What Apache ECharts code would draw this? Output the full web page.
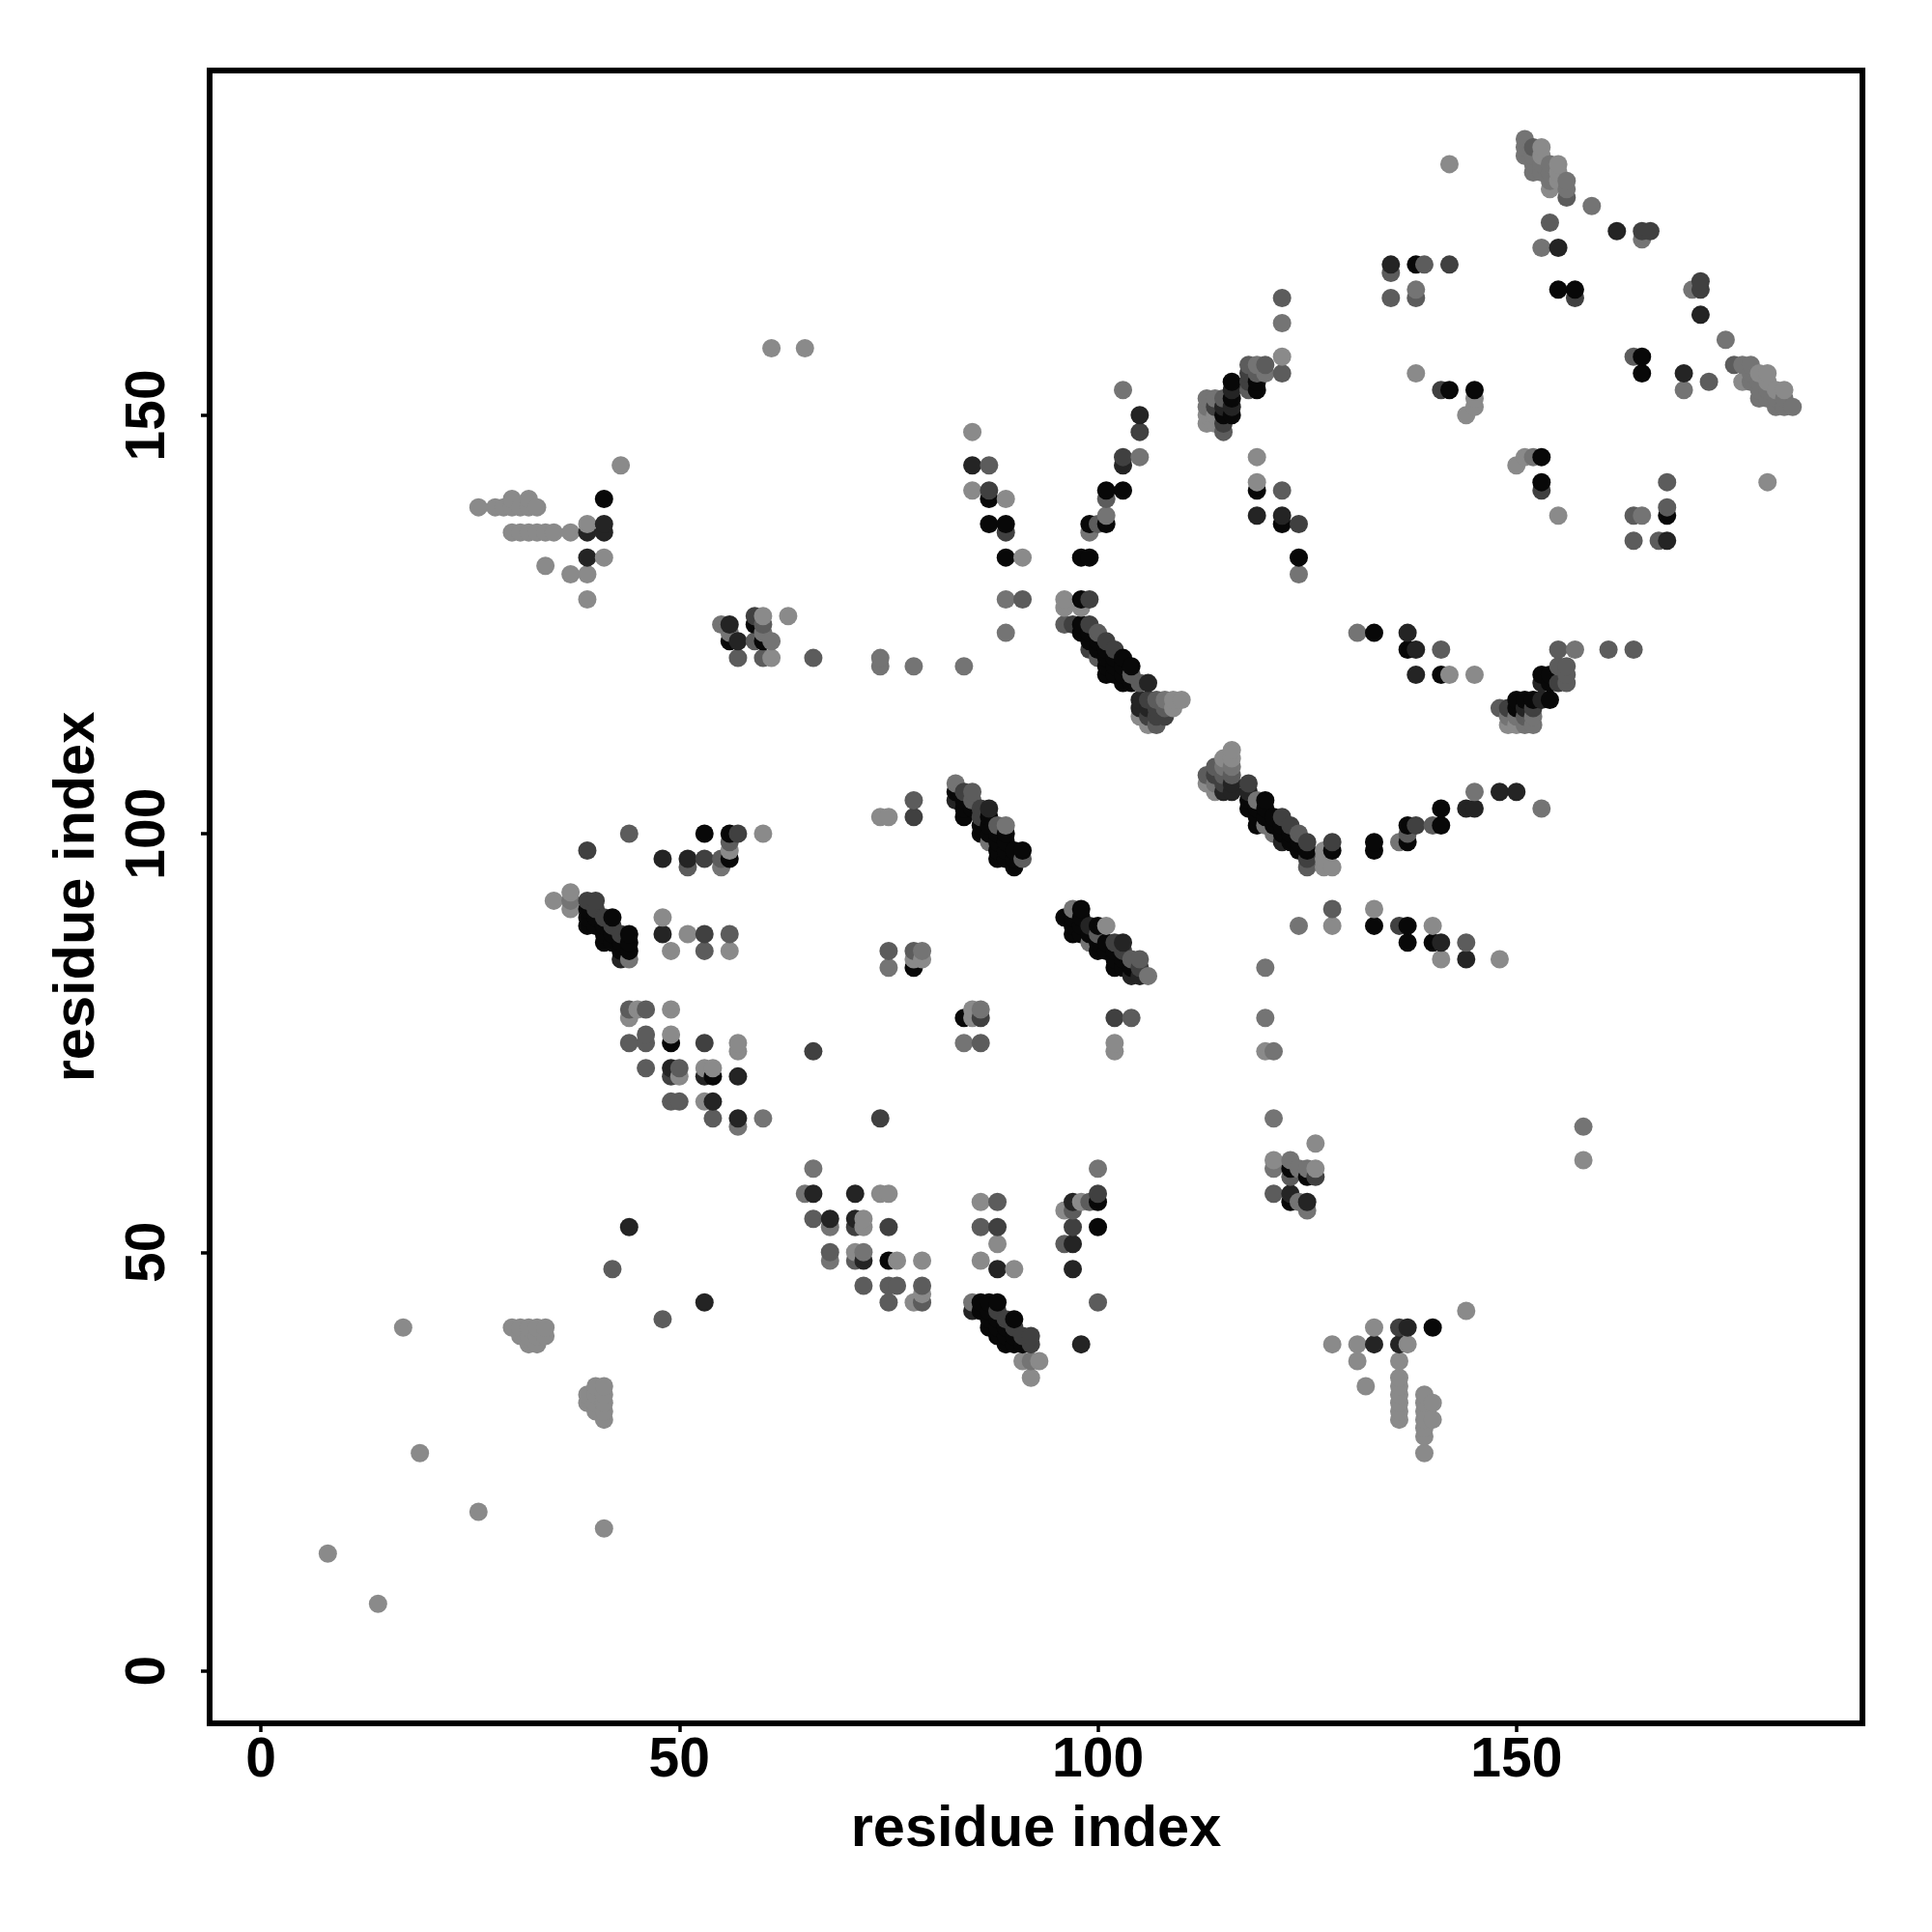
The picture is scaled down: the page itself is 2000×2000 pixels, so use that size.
<!DOCTYPE html>
<html><head><meta charset="utf-8">
<style>html,body{margin:0;padding:0;background:#fff}#c{width:2000px;height:2000px}</style>
<script src="https://cdn.jsdelivr.net/npm/echarts@6/dist/echarts.min.js"></script>
</head><body><div id="c"></div>
<script>
// each point: [residue i, residue j, contact strength level 1..6]
const tickValues = [0, 50, 100, 150];
const axisTitle = 'residue index';
const regionA = [[44,53,5],[42,48,3],[53,44,5],[48,42,3],[17,41,1],[30,41,1],[31,41,1],[32,41,1],[33,41,1],[34,41,1],[31,40,1],[32,40,1],[33,40,1],[34,40,1],[32,39,1],[33,39,1],[40,34,1],[41,34,1],[39,33,1],[40,33,1],[41,33,1],[39,32,1],[40,32,1],[41,32,1],[40,31,1],[41,31,1],[41,30,1],[19,26,1],[26,19,1],[41,17,1],[8,14,1],[14,8,1]];
const regionB = [[66,60,2],[65,57,2],[66,57,5],[71,57,5],[74,57,1],[75,57,1],[66,54,3],[68,54,5],[68,53,2],[71,54,5],[72,54,1],[71,53,4],[72,53,1],[75,53,4],[68,50,3],[68,49,2],[71,50,1],[72,50,2],[71,49,3],[72,49,5],[75,49,6],[76,49,1],[79,49,1],[72,46,3],[75,46,3],[76,46,3],[79,46,3],[75,44,3],[78,44,1],[79,45,1],[79,44,3]];
const regionC = [[86,56,1],[88,56,3],[86,53,3],[88,53,4],[88,51,1],[86,49,1],[88,48,5],[90,48,1],[85,44,2],[85,43,5],[86,44,6],[87,44,6],[88,44,6],[86,43,6],[87,43,6],[88,43,4],[87,42,6],[88,42,6],[89,42,4],[90,42,6],[87,41,6],[88,41,6],[89,41,6],[90,41,4],[88,40,6],[89,40,6],[90,40,6],[91,40,4],[92,40,4],[89,39,6],[90,39,6],[91,39,6],[92,39,4],[91,37,1],[92,37,2],[93,37,1],[92,35,1],[100,60,2],[100,57,4],[100,56,6],[97,56,5],[98,56,1],[99,56,3],[96,55,1],[97,55,3],[97,53,4],[100,53,6],[96,51,3],[97,51,5],[97,48,5],[100,44,3],[98,39,5]];
const regionD = [[121,66,2],[126,63,1],[121,61,1],[121,60,2],[123,61,2],[123,60,6],[124,60,2],[123,59,3],[125,60,2],[125,59,6],[126,60,1],[126,59,4],[121,57,3],[123,57,5],[123,56,6],[124,56,2],[125,56,5],[125,55,2],[158,65,2],[158,61,1],[144,43,1],[133,41,1],[136,41,4],[137,41,5],[140,41,6],[128,39,1],[131,39,1],[133,39,5],[136,39,5],[137,39,1],[131,37,1],[136,37,1],[136,35,1],[136,34,1],[136,33,1],[136,32,1],[136,31,1],[136,30,1],[132,34,1],[139,33,1],[139,32,1],[139,31,1],[139,30,1],[139,29,1],[139,28,1],[139,26,1],[140,32,1],[140,30,1]];
const regionE = [[44,100,3],[53,100,6],[56,100,6],[57,100,4],[60,100,1],[39,98,4],[56,99,3],[56,98,1],[48,97,5],[51,97,5],[53,97,4],[55,97,3],[56,97,6],[51,96,3],[55,96,2],[35,92,1],[37,93,1],[37,92,2],[37,91,1],[39,92,4],[40,92,4],[39,91,6],[39,90,6],[39,89,6],[40,91,4],[40,90,6],[40,89,6],[41,90,4],[41,89,6],[41,88,6],[41,87,6],[42,90,6],[42,89,4],[42,88,6],[42,87,6],[43,88,4],[43,87,6],[43,86,6],[43,85,5],[44,88,6],[44,87,6],[44,86,6],[44,85,2],[48,90,1],[48,88,5],[51,88,1],[53,88,4],[56,88,3],[49,86,1],[53,86,3],[56,86,1]];
const regionF = [[44,79,3],[45,79,1],[46,79,3],[44,78,1],[49,79,1],[46,76,3],[44,75,3],[46,75,3],[49,76,1],[49,75,6],[53,75,4],[57,75,1],[57,74,1],[66,74,4],[46,72,3],[49,72,5],[50,72,3],[49,71,4],[50,71,1],[53,72,1],[54,72,1],[53,71,5],[54,71,6],[57,71,5],[49,68,3],[50,68,3],[53,68,1],[54,68,5],[54,66,3],[57,66,5],[57,65,2],[60,66,2],[74,66,4]];
const regionG = [[83,106,2],[83,105,6],[83,104,5],[84,105,4],[85,105,3],[84,104,6],[84,103,6],[84,102,6],[85,104,3],[85,103,6],[86,103,4],[87,103,5],[86,102,4],[86,101,6],[86,100,6],[87,102,6],[87,101,6],[87,100,6],[87,99,2],[88,101,3],[89,101,2],[88,100,6],[89,100,6],[88,99,6],[89,99,6],[88,98,6],[89,98,6],[88,97,6],[89,97,6],[90,97,6],[90,96,6],[90,98,6],[91,98,6],[91,97,3]];
const regionH = [[97,91,2],[98,91,6],[96,90,6],[97,90,6],[98,90,6],[97,89,6],[97,88,6],[98,89,6],[99,89,5],[100,89,6],[101,89,1],[98,88,6],[99,88,6],[100,88,3],[99,87,2],[100,87,6],[100,86,6],[101,87,6],[101,86,6],[102,87,4],[103,87,5],[102,86,6],[103,86,4],[102,85,6],[102,84,6],[103,85,6],[103,84,6],[104,85,3],[105,85,3],[104,84,6],[104,83,5],[105,84,4],[105,83,5],[106,83,2],[75,86,3],[75,84,2],[78,86,3],[79,86,2],[78,85,1],[79,85,1],[78,84,6],[78,104,3],[78,102,4],[74,102,1],[75,102,1],[84,78,6],[85,79,1],[86,79,2],[85,78,1],[86,78,4],[84,75,2],[86,75,3],[102,78,4],[104,78,3],[102,75,1],[102,74,1]];
const regionI = [[55,125,2],[56,125,5],[56,124,2],[56,123,6],[57,123,5],[57,121,3],[59,126,4],[59,125,6],[60,126,1],[60,125,3],[59,123,3],[60,124,2],[60,123,6],[61,123,2],[63,126,1],[60,121,3],[61,121,1],[66,121,3],[74,121,2],[74,120,2],[78,120,2],[84,120,2],[43,144,1],[41,140,6],[26,139,1],[28,139,1],[29,139,1],[30,139,1],[31,139,1],[32,139,1],[33,139,1],[30,140,1],[32,140,1],[30,136,1],[31,136,1],[32,136,1],[33,136,1],[34,136,1],[35,136,1],[37,136,1],[39,137,1],[39,136,5],[41,137,5],[41,136,5],[39,133,5],[41,133,1],[34,132,1],[37,131,1],[39,131,1],[39,128,1],[61,158,1],[65,158,1]];
const regionJ = [[85,148,1],[85,144,5],[87,144,3],[85,141,1],[87,141,4],[87,140,6],[89,140,1],[87,137,6],[89,137,6],[89,136,4],[89,133,6],[91,133,1],[89,128,2],[91,128,3],[89,124,2],[103,153,2],[105,150,5],[105,148,4],[103,145,4],[103,144,5],[105,145,2],[101,141,6],[103,141,6],[101,140,3],[101,138,2],[101,137,6],[100,137,3],[99,137,6],[99,136,2],[98,133,6],[99,133,6],[96,128,1],[96,127,1],[98,128,6],[99,128,4],[98,127,1]];
const regionK = [[96,125,3],[97,125,4],[98,125,6],[99,125,4],[98,124,6],[99,124,6],[100,124,3],[99,123,6],[100,123,6],[101,123,4],[102,122,4],[101,122,6],[100,122,6],[99,122,4],[100,121,3],[101,121,6],[102,121,6],[103,121,6],[104,120,6],[103,120,6],[102,120,6],[101,120,6],[101,119,6],[102,119,6],[103,119,6],[104,119,3],[105,118,3],[106,118,5],[103,118,6],[104,118,6],[105,116,5],[106,116,4],[107,116,3],[108,116,2],[109,116,1],[110,116,1],[105,115,5],[106,115,5],[107,115,4],[108,115,3],[109,115,1],[105,114,1],[106,114,4],[107,114,4],[108,114,4],[106,113,1],[107,113,3]];
const regionL = [[122,164,3],[122,161,2],[122,157,1],[122,155,3],[118,156,3],[119,156,2],[120,156,3],[118,155,4],[119,155,3],[120,155,2],[118,154,4],[119,154,6],[118,153,3],[119,153,6],[116,154,6],[116,153,5],[116,152,6],[115,152,3],[114,152,2],[113,152,2],[116,151,5],[115,151,5],[114,151,4],[113,151,2],[116,150,6],[115,150,6],[114,150,1],[113,150,1],[115,149,4],[113,149,1],[114,149,1],[115,148,3],[119,145,1],[119,142,1],[119,141,6],[122,141,3],[119,138,5],[122,138,5],[122,137,6],[124,137,4],[124,133,6],[124,131,2]];
const regionM = [[138,165,2],[138,164,3],[135,164,3],[135,168,5],[135,167,3],[138,168,6],[139,168,3],[142,168,4],[142,180,1],[138,155,1],[141,153,4],[142,153,6],[145,153,6],[145,152,1],[145,151,1],[144,150,1],[150,144,1],[153,145,6],[152,145,2],[151,145,1],[153,142,6],[153,141,4],[155,138,1],[168,142,3],[180,142,1],[168,139,3],[168,138,6],[164,138,3],[165,138,2],[164,135,3],[167,135,3],[168,135,5]];
const regionN = [[151,183,2],[151,182,2],[151,181,2],[152,182,3],[153,182,1],[152,181,2],[153,181,1],[152,180,2],[153,180,2],[154,180,2],[155,180,1],[152,179,2],[153,179,2],[154,179,2],[155,179,1],[154,178,2],[155,178,1],[156,178,2],[154,177,1],[156,177,2],[156,176,3],[159,175,2],[154,173,3],[162,172,5],[165,172,4],[166,172,4],[165,171,2],[153,170,2],[155,170,5],[155,165,6],[157,165,6],[157,164,4],[172,166,4],[171,165,2],[172,165,4],[172,162,5],[175,159,2],[164,157,3],[165,157,6],[165,155,6],[170,155,5],[170,153,2],[173,154,3],[176,156,3],[177,156,2],[178,156,2],[177,154,1],[178,155,2],[179,155,1],[180,155,1],[178,154,2],[179,154,2],[180,154,1],[179,153,2],[180,153,2],[181,153,1],[182,153,1],[179,152,2],[180,152,2],[181,152,2],[182,152,2],[181,151,2],[182,151,2],[183,151,2]];
const regionO = [[131,124,2],[133,124,6],[137,124,5],[137,122,6],[138,122,5],[141,122,3],[138,119,5],[141,119,6],[142,119,1],[145,119,1],[155,122,3],[157,122,2],[161,122,3],[164,122,3],[148,115,3],[149,115,4],[150,116,6],[151,116,6],[152,116,6],[153,116,5],[154,116,6],[150,115,6],[151,115,5],[152,115,4],[149,114,2],[150,114,2],[151,114,3],[152,114,2],[149,113,1],[150,113,1],[151,113,2],[152,113,2],[153,119,6],[153,118,5],[154,119,6],[154,118,6],[155,118,4],[156,120,3],[155,120,3],[156,119,3],[156,118,3]];
const regionP = [[120,84,2],[120,78,2],[120,74,1],[121,74,2],[124,89,2],[128,91,3],[128,89,1],[133,91,1],[133,89,6],[136,89,4],[137,89,6],[140,89,1],[137,87,6],[140,87,6],[141,87,5],[144,87,3],[141,85,1],[144,85,5],[148,85,1],[145,105,2],[148,105,5],[150,105,5],[153,103,2],[141,103,6],[144,103,5],[145,103,5],[141,101,6],[140,101,3],[138,101,4],[137,101,6],[137,100,3],[137,99,6],[136,99,2],[133,99,6],[133,98,6],[128,99,4],[128,98,6],[127,98,1],[127,97,1],[127,96,1],[128,96,1]];
const regionQ = [[116,110,1],[115,109,1],[116,109,1],[114,108,3],[115,108,2],[116,108,2],[113,107,3],[114,107,4],[115,107,3],[116,107,3],[113,106,1],[114,106,2],[115,106,4],[116,106,5],[114,105,1],[115,105,5],[116,105,5],[118,106,4],[118,105,5],[118,104,6],[118,103,6],[119,104,2],[119,103,6],[119,102,6],[119,101,6],[120,104,6],[120,103,6],[120,102,6],[120,101,2],[121,102,6],[121,101,6],[121,100,2],[122,102,4],[122,101,6],[122,100,6],[122,99,5],[123,101,4],[123,100,6],[123,99,6],[124,100,3],[124,99,6],[124,98,6],[125,99,4],[125,98,6],[125,97,4],[125,96,3]];
const levelGrey = {1:138, 2:116, 3:92, 4:64, 5:36, 6:8};

const all = [].concat(regionA,regionB,regionC,regionD,regionE,regionF,regionG,regionH,regionI,regionJ,regionK,regionL,regionM,regionN,regionO,regionP,regionQ)
  .sort((a,b)=>a[0]-b[0]||a[1]-b[1]);
const font = '"Liberation Sans", Arial, sans-serif';
const mkAxis = (min,max,gap,margin,rotate)=>({
  type:'value',min,max,name:axisTitle,nameLocation:'middle',nameGap:gap,nameRotate:rotate,
  nameTextStyle:{fontFamily:font,fontWeight:'bold',fontSize:59.5,color:'#000'},
  splitLine:{show:false},
  axisLine:{show:false,onZero:false},
  axisTick:{show:true,inside:false,length:9,lineStyle:{color:'#000',width:3.5},customValues:tickValues},
  axisLabel:{show:true,rotate,margin,fontFamily:font,fontWeight:'bold',fontSize:57,color:'#000',customValues:tickValues,showMinLabel:true,showMaxLabel:true}
});
const chart = echarts.init(document.getElementById('c'),null,{renderer:'canvas',width:2000,height:2000});
chart.setOption({
  animation:false,backgroundColor:'#fff',
  grid:{left:217,top:73,width:1711,height:1711,show:true,borderColor:'#000',borderWidth:6,backgroundColor:'transparent',containLabel:false},
  xAxis:mkAxis(-6.12,191.34,81,11,0),
  yAxis:mkAxis(-6.28,191.18,106,34,90),
  series:[{type:'scatter',symbol:'circle',symbolSize:19,large:false,progressive:0,silent:true,
    data:all.map(p=>{const g=levelGrey[p[2]];return{value:[p[0],p[1]],itemStyle:{color:`rgb(${g},${g},${g})`,opacity:1}}})}]
});
</script></body></html>
